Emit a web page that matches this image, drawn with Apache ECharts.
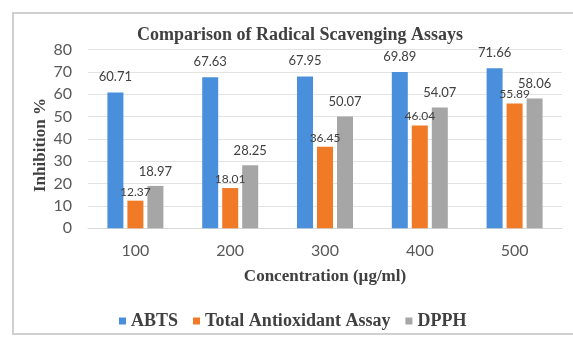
<!DOCTYPE html>
<html>
<head>
<meta charset="utf-8">
<script src="https://cdn.jsdelivr.net/npm/echarts@6/dist/echarts.min.js"></script>
<style>
  html, body { margin: 0; padding: 0; background: #ffffff; }
  #chart { width: 573px; height: 338px; }
</style>
</head>
<body>
<div id="chart"></div>
<script>
// Concentrations tested (µg/ml)
const concentrations = ['100', '200', '300', '400', '500'];
// Percentage inhibition for each assay
const abts = [60.71, 67.63, 67.95, 69.89, 71.66];
const totalAntioxidant = [12.37, 18.01, 36.45, 46.04, 55.89];
const dpph = [18.97, 28.25, 50.07, 54.07, 58.06];

const serif = '"Liberation Serif", "Times New Roman", serif';
const sans = 'Lato, "Liberation Sans", sans-serif';

const chart = echarts.init(document.getElementById('chart'), null, { renderer: 'canvas' });

function barSeries(name, data, color, labelSize, labelDist) {
  return {
    name: name,
    type: 'bar',
    data: data,
    barWidth: 16,
    barGap: '25%',
    itemStyle: { color: color },
    label: {
      show: true,
      position: 'top',
      distance: labelDist,
      color: '#404040',
      fontFamily: sans,
      fontSize: labelSize,
      formatter: p => p.value.toFixed(2)
    }
  };
}

chart.setOption({
  animation: false,
  backgroundColor: '#ffffff',
  graphic: [
    {
      // outer chart frame
      type: 'rect',
      shape: { x: 13, y: 13, width: 700, height: 321 },
      style: { fill: 'none', stroke: '#d0d0d0', lineWidth: 2 },
      silent: true,
      z: -1
    },
    {
      // value axis title, rotated
      type: 'text',
      x: 41,
      y: 145,
      rotation: Math.PI / 2,
      style: {
        text: 'Inhibition %',
        textAlign: 'center',
        textVerticalAlign: 'middle',
        font: 'bold 17px ' + serif,
        fill: '#404040'
      },
      silent: true
    }
  ],
  title: {
    text: 'Comparison of Radical Scavenging Assays',
    left: 295,
    top: 21,
    textAlign: 'center',
    textStyle: { fontFamily: serif, fontWeight: 'bold', fontSize: 18, color: '#404040' }
  },
  grid: { left: 88, right: 11, top: 49.5, bottom: 109.7 },
  legend: {
    data: ['ABTS', 'Total Antioxidant Assay', 'DPPH'],
    left: 114,
    top: 307,
    icon: 'rect',
    itemWidth: 7,
    itemHeight: 7,
    itemGap: 15,
    textStyle: { fontFamily: serif, fontWeight: 'bold', fontSize: 18, color: '#404040' }
  },
  xAxis: {
    type: 'category',
    data: concentrations,
    name: 'Concentration (µg/ml)',
    nameLocation: 'middle',
    nameGap: 40,
    nameTextStyle: { fontFamily: serif, fontWeight: 'bold', fontSize: 17, color: '#404040' },
    axisLine: { show: true, lineStyle: { color: '#d9d9d9' } },
    axisTick: { show: false },
    axisLabel: { margin: 15, fontFamily: sans, fontSize: 16, color: '#595959' }
  },
  yAxis: {
    type: 'value',
    min: 0,
    max: 80,
    interval: 10,
    axisLine: { show: false },
    axisTick: { show: false },
    splitLine: { lineStyle: { color: '#e3e3e3' } },
    axisLabel: { margin: 16, fontFamily: sans, fontSize: 16, color: '#595959' }
  },
  series: [
    barSeries('ABTS', abts, '#4a8fdb', 13, 9),
    barSeries('Total Antioxidant Assay', totalAntioxidant, '#f07a26', 12, 3),
    barSeries('DPPH', dpph, '#a6a6a6', 13, 8)
  ]
});
</script>
</body>
</html>
